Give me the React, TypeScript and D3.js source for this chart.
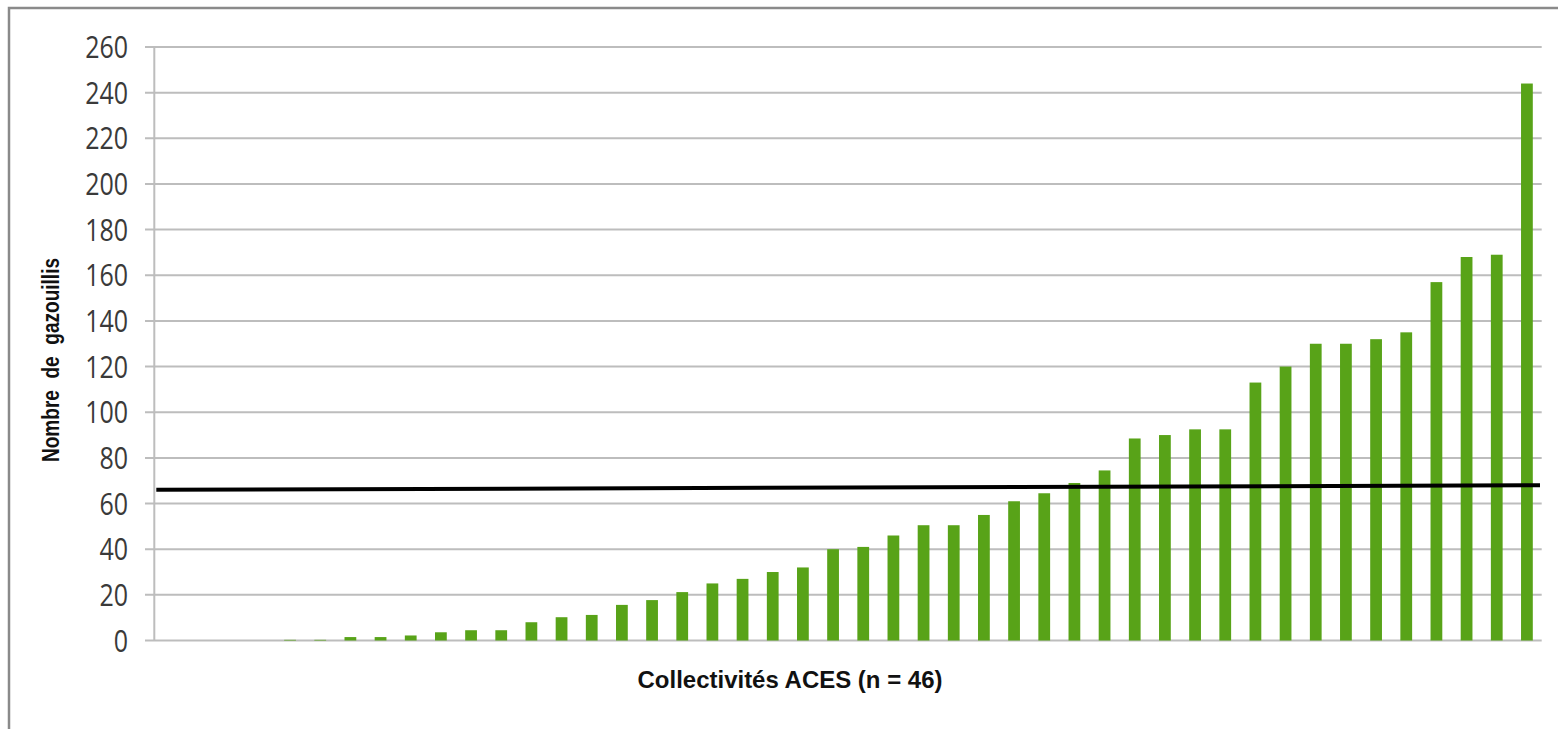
import * as d3 from 'd3';

// Nombre de gazouillis par collectivité (triées par ordre croissant)
const gazouillis = [
  0, 0, 0, 0, 0.3, 0.3, 1.5, 1.5, 2.2, 3.6, 4.5, 4.5, 8, 10.2, 11.2, 15.6,
  17.7, 21.2, 25, 27, 30, 32, 40, 41, 46, 50.5, 50.5, 55, 61, 64.5, 69, 74.5,
  88.5, 90, 92.5, 92.5, 113, 120, 130, 130, 132, 135, 157, 168, 169, 244,
];
const collectivites = gazouillis.map((_, i) => `C${i + 1}`);
const yTicks = [0, 20, 40, 60, 80, 100, 120, 140, 160, 180, 200, 220, 240, 260];
// black reference line: value at its left end, value at its right end
const referenceLine = [66, 68];
const yTitle = 'Nombre de gazouillis';
const xTitle = 'Collectivités ACES (n = 46)';

const width = 1558;
const height = 729;
const marginLeft = 154.3;
const plotRight = 1542;
const marginTop = 47;
const plotBottom = 640.5;

const App = () => {
  const x = d3.scaleBand<string>()
    .domain(collectivites)
    .range([marginLeft, plotRight])
    .paddingInner(0.61)
    .paddingOuter(0.305);
  const y = d3.scaleLinear()
    .domain([0, 260])
    .range([plotBottom, marginTop]);

  const refLine = d3.line<number>()
    .x((_, i) => (i === 0 ? marginLeft + 2 : 1540))
    .y((d) => y(d))(referenceLine);

  // grid + tick labels
  const yAxisTicks = yTicks.map((t) => (
    <g key={t} transform={`translate(0, ${y(t)})`}>
      <line x1={145} x2={1541.7} stroke="#bdbdbd" strokeWidth={2} />
      <g transform="translate(128, 0) scale(1, 1.25)">
        <text
          textAnchor="end"
          y={8.9}
          style={{ font: '25px "Open Sans", sans-serif', fill: '#3a3a3a' }}
        >
          {t}
        </text>
      </g>
    </g>
  ));

  const bars = gazouillis.map((v, i) => (
    <rect
      key={collectivites[i]}
      x={x(collectivites[i])}
      y={y(v)}
      width={x.bandwidth()}
      height={plotBottom - y(v)}
      fill="#58a318"
    />
  ));

  return (
    <svg
      width={width}
      height={height}
      style={{ position: 'absolute', left: 0, top: 0, background: 'white' }}
    >
      <rect x={9} y={8} width={1700} height={900} fill="none" stroke="#8a8a8a" strokeWidth={2.5} />
      {yAxisTicks}
      <line x1={marginLeft} x2={marginLeft} y1={marginTop} y2={plotBottom} stroke="#bdbdbd" strokeWidth={2} />
      {bars}
      <path d={refLine || ''} fill="none" stroke="#000" strokeWidth={4} />
      <text
        transform="translate(59, 360) rotate(-90)"
        textAnchor="middle"
        textLength={204}
        lengthAdjust="spacingAndGlyphs"
        style={{ font: 'bold 24px "Liberation Sans Narrow", "Liberation Sans", Arial, sans-serif', fill: '#111', wordSpacing: '8px' }}
      >
        {yTitle}
      </text>
      <text
        x={790}
        y={688}
        textAnchor="middle"
        textLength={305}
        lengthAdjust="spacingAndGlyphs"
        style={{ font: 'bold 24px "Liberation Sans", Arial, sans-serif', fill: '#111' }}
      >
        {xTitle}
      </text>
    </svg>
  );
};

export default App;
